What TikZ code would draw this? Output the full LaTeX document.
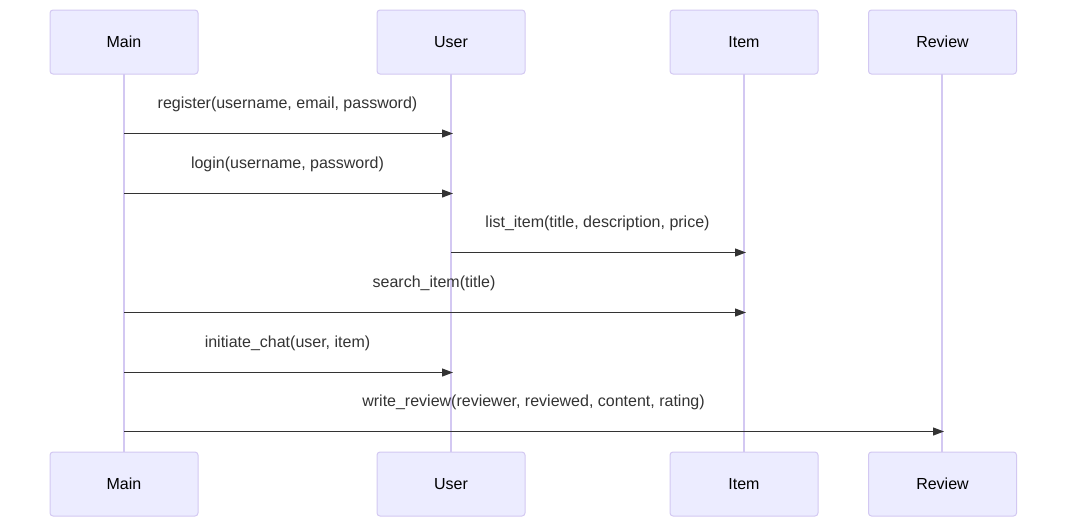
\documentclass[tikz,border=0pt]{standalone}
\usepackage{fontspec}
\setmainfont{Liberation Sans}
\usetikzlibrary{arrows.meta}
\definecolor{actorfill}{HTML}{ECECFF}
\definecolor{actorline}{HTML}{D3C8F2}
\definecolor{lifeline}{HTML}{D3C8F2}
\definecolor{msgline}{HTML}{333333}
\begin{document}
\begin{tikzpicture}[x=1pt,y=-1pt,
  actor/.style={draw=actorline,fill=actorfill,rounded corners=3pt,line width=1pt,
    minimum width=148pt,minimum height=64pt,inner sep=0pt,
    font=\fontsize{16}{19}\selectfont,text=black},
  life/.style={draw=lifeline,line width=1.5pt},
  msg/.style={draw=msgline,line width=1.2pt,shorten >=-2pt,
    -{Triangle[length=11pt,width=8pt]}},
  msglabel/.style={font=\fontsize{16}{19}\selectfont,text=msgline,inner sep=0pt}]
\useasboundingbox (0,0) rectangle (1075,531);
% lifelines
\foreach \n/\x in {main/124,user/451,item/744,review/942}{
  \coordinate (\n t) at (\x,74);
  \coordinate (\n b) at (\x,452);
}
\foreach \n in {main,user,item,review}{
  \draw[life] (\n t) -- (\n b);
}
% participants
\node[actor] (mainT) at (124,42) {Main};
\node[actor] (userT) at (451,42) {User};
\node[actor] (itemT) at (744,42) {Item};
\node[actor] (reviewT) at (942.5,42) {Review};
\node[actor] (mainB) at (124,484) {Main};
\node[actor] (userB) at (451,484) {User};
\node[actor] (itemB) at (744,484) {Item};
\node[actor] (reviewB) at (942.5,484) {Review};
% message anchors
\foreach \i/\y in {1/133.5,2/193.5,3/252.5,4/312.5,5/372.5,6/431.5}{
  \coordinate (main\i) at (124,\y);
  \coordinate (user\i) at (451,\y);
  \coordinate (item\i) at (744,\y);
  \coordinate (review\i) at (942,\y);
}
% messages
\draw[msg] (main1) -- (user1);
\node[msglabel] (l1) at (287.5,104) {register(username, email, password)};
\draw[msg] (main2) -- (user2);
\node[msglabel] (l2) at (287.5,164) {login(username, password)};
\draw[msg] (user3) -- (item3);
\node[msglabel] (l3) at (597.5,223) {list\_item(title, description, price)};
\draw[msg] (main4) -- (item4);
\node[msglabel] (l4) at (434,283) {search\_item(title)};
\draw[msg] (main5) -- (user5);
\node[msglabel] (l5) at (287.5,343) {initiate\_chat(user, item)};
\draw[msg] (main6) -- (review6);
\node[msglabel] (l6) at (533.5,402) {write\_review(reviewer, reviewed, content, rating)};
\end{tikzpicture}
\end{document}
